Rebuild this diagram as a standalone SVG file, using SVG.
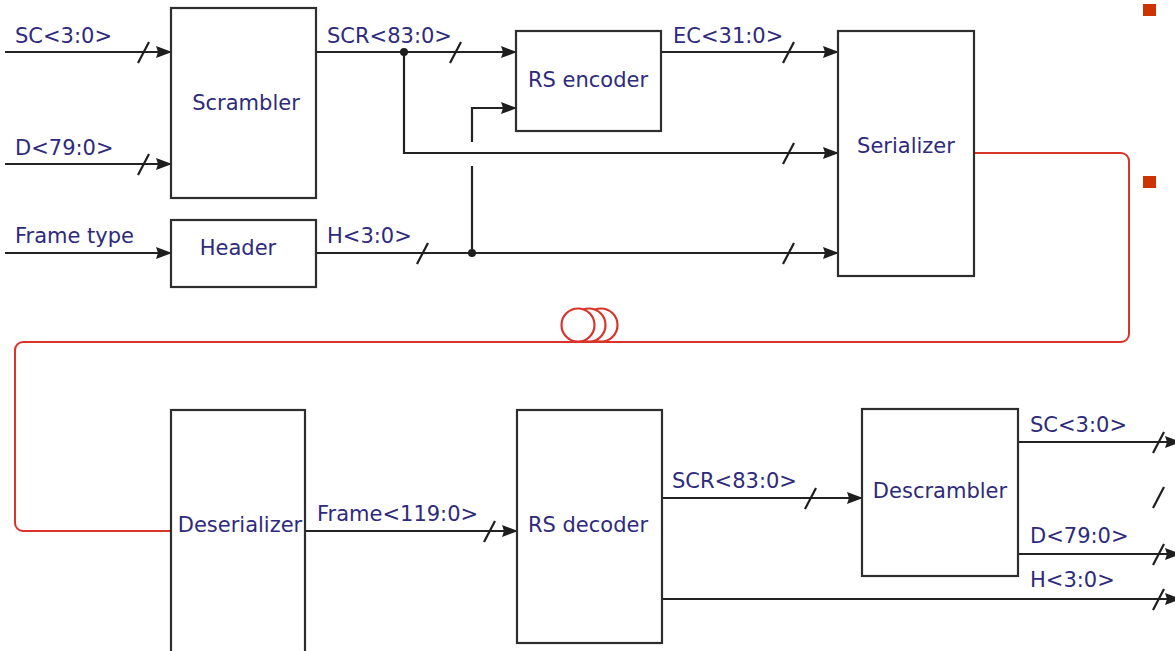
<svg xmlns="http://www.w3.org/2000/svg" width="1175" height="651" viewBox="0 0 1175 651">
<defs>
<marker id="ah" viewBox="0 0 16 12" refX="15" refY="6" markerWidth="16" markerHeight="12" markerUnits="userSpaceOnUse" orient="auto">
<path d="M0,0 L16,6 L0,12 L2,6 Z" fill="#1e1e1e"/>
</marker>
<style>
.box{fill:#fff;stroke:#2e2e2e;stroke-width:2.2}
.t{font-family:"DejaVu Sans",sans-serif;font-size:21px;fill:#2e2a7c}
.c{text-anchor:middle}
.w{fill:none;stroke:#222;stroke-width:2.2}
.a{marker-end:url(#ah)}
.s{stroke:#1e1e1e;stroke-width:2.2}
.r{fill:none;stroke:#d9342b;stroke-width:2}
.coil{fill:#fff;stroke:#d9342b;stroke-width:2.2}
</style>
</defs>
<rect width="1175" height="651" fill="#fff"/>

<g id="connectors">
<path class="w a" d="M5,52 H171"/>
<path class="w a" d="M5,164 H171"/>
<path class="w a" d="M5,253 H171"/>
<path class="w a" d="M316,52 H516"/>
<path class="w a" d="M404,52 V153 H838"/>
<path class="w a" d="M661,52 H838"/>
<path class="w a" d="M316,253 H838"/>
<path class="w" d="M472,253 V166"/>
<path class="w a" d="M472,142 V108 H516"/>
<circle cx="404" cy="52" r="4" fill="#1e1e1e"/>
<circle cx="472" cy="253" r="4" fill="#1e1e1e"/>
<path class="w a" d="M305,531 H517"/>
<path class="w a" d="M662,498 H862"/>
<path class="w a" d="M1018,442 H1180"/>
<path class="w a" d="M1018,554 H1180"/>
<path class="w a" d="M662,599 H1180"/>
<g class="s">
<line x1="138" y1="63" x2="149" y2="42"/>
<line x1="138" y1="175" x2="149" y2="154"/>
<line x1="450" y1="63" x2="461" y2="42"/>
<line x1="783" y1="63" x2="794" y2="42"/>
<line x1="783" y1="164" x2="794" y2="143"/>
<line x1="417" y1="264" x2="428" y2="243"/>
<line x1="783" y1="264" x2="794" y2="243"/>
<line x1="484" y1="542" x2="495" y2="521"/>
<line x1="805" y1="509" x2="816" y2="488"/>
<line x1="1153" y1="453" x2="1164" y2="432"/>
<line x1="1153" y1="508" x2="1164" y2="487"/>
<line x1="1153" y1="565" x2="1164" y2="544"/>
<line x1="1153" y1="610" x2="1164" y2="589"/>
</g>
<path class="r" d="M974,153 H1121 A8,8 0 0 1 1129,161 V334 A8,8 0 0 1 1121,342 H23 A8,8 0 0 0 15,350 V523 A8,8 0 0 0 23,531 H171"/>
<circle class="coil" cx="601" cy="325" r="16.5"/>
<circle class="coil" cx="589" cy="325" r="16.5"/>
<circle class="coil" cx="578" cy="325" r="16.5"/>
</g>

<g id="labels">
<text class="t" x="15" y="43">SC&lt;3:0&gt;</text>
<text class="t" x="15" y="155">D&lt;79:0&gt;</text>
<text class="t" x="15" y="243">Frame type</text>
<text class="t" x="327" y="43">SCR&lt;83:0&gt;</text>
<text class="t" x="327" y="243">H&lt;3:0&gt;</text>
<text class="t" x="673" y="43">EC&lt;31:0&gt;</text>
<text class="t" x="317" y="521">Frame&lt;119:0&gt;</text>
<text class="t" x="672" y="488">SCR&lt;83:0&gt;</text>
<text class="t" x="1030" y="432">SC&lt;3:0&gt;</text>
<text class="t" x="1030" y="543">D&lt;79:0&gt;</text>
<text class="t" x="1030" y="587">H&lt;3:0&gt;</text>
</g>

<g id="scrambler"><rect class="box" x="171" y="8" width="145" height="190"/><text class="t c" x="246" y="110">Scrambler</text></g>
<g id="header"><rect class="box" x="171" y="220" width="145" height="67"/><text class="t c" x="238" y="255">Header</text></g>
<g id="rs-encoder"><rect class="box" x="516" y="31" width="145" height="100"/><text class="t c" x="588" y="87">RS encoder</text></g>
<g id="serializer"><rect class="box" x="838" y="31" width="136" height="245"/><text class="t c" x="906" y="153">Serializer</text></g>
<g id="deserializer"><rect class="box" x="171" y="410" width="134" height="260"/><text class="t c" x="240" y="532">Deserializer</text></g>
<g id="rs-decoder"><rect class="box" x="517" y="410" width="145" height="233"/><text class="t c" x="588" y="532">RS decoder</text></g>
<g id="descrambler"><rect class="box" x="862" y="409" width="156" height="167"/><text class="t c" x="940" y="498">Descrambler</text></g>
<g id="bullets">
<rect x="1143" y="4" width="13" height="12" fill="#cc3300"/>
<rect x="1143" y="176" width="13" height="12" fill="#cc3300"/>
</g>
</svg>
